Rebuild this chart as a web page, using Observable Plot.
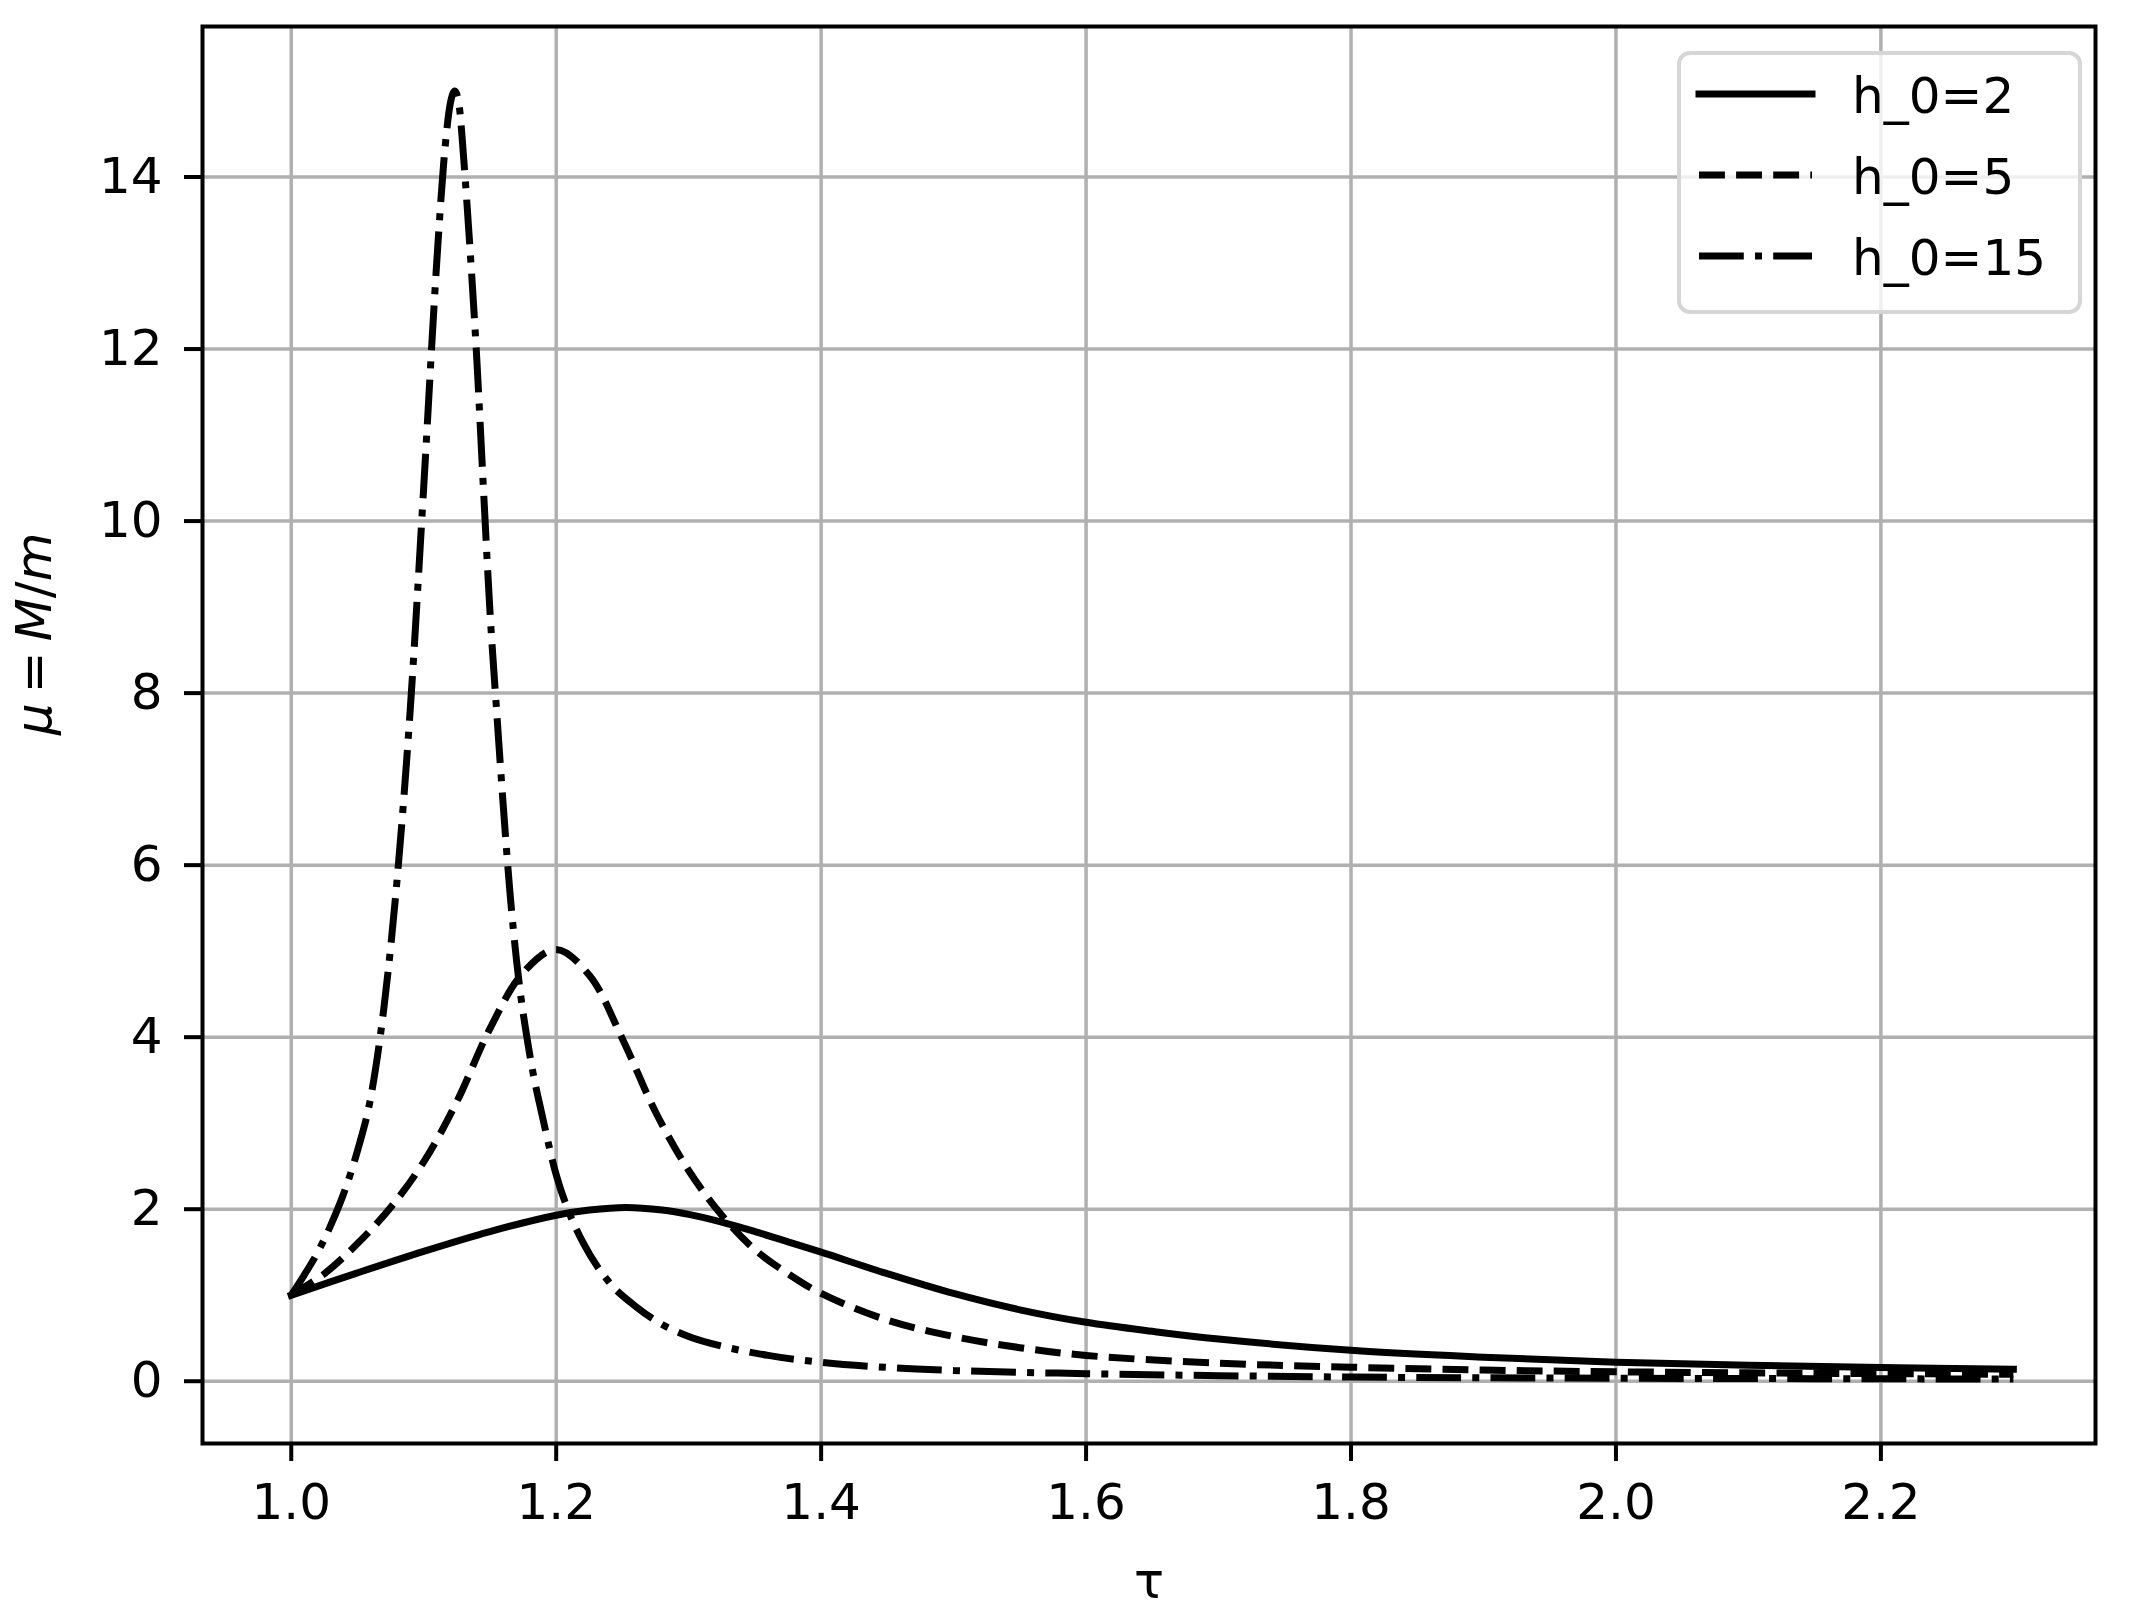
<!DOCTYPE html>
<html>
<head>
<meta charset="utf-8">
<script src="https://cdn.jsdelivr.net/npm/d3@7"></script>
<script src="https://cdn.jsdelivr.net/npm/@observablehq/plot@0.6"></script>
<style>
  html, body { margin: 0; padding: 0; background: #ffffff; }
  #chart { width: 2135px; height: 1623px; }
</style>
</head>
<body>
<div id="chart"></div>
<script>
// ---------------- data ----------------
const seriesLabels = ["h_0=2", "h_0=5", "h_0=15"];

const tau_h2 = [1.0, 1.05, 1.1, 1.15, 1.2, 1.225, 1.253, 1.28, 1.3, 1.325, 1.35, 1.375, 1.4, 1.45, 1.5, 1.55, 1.6, 1.65, 1.7, 1.8, 1.9, 2.0, 2.1, 2.2, 2.3];
const mu_h2  = [1.0, 1.26, 1.51, 1.74, 1.93, 1.99, 2.02, 1.99, 1.94, 1.85, 1.74, 1.62, 1.50, 1.25, 1.02, 0.83, 0.685, 0.58, 0.49, 0.36, 0.28, 0.22, 0.185, 0.16, 0.14];

const tau_h5 = [1.0, 1.025, 1.05, 1.075, 1.1, 1.125, 1.15, 1.175, 1.2, 1.225, 1.25, 1.275, 1.3, 1.325, 1.35, 1.375, 1.4, 1.45, 1.5, 1.55, 1.6, 1.7, 1.8, 1.9, 2.0, 2.15, 2.3];
const mu_h5  = [1.0, 1.25, 1.6, 2.02, 2.55, 3.25, 4.1, 4.75, 5.02, 4.72, 3.98, 3.13, 2.45, 1.93, 1.53, 1.25, 1.02, 0.71, 0.52, 0.39, 0.30, 0.21, 0.163, 0.13, 0.11, 0.093, 0.08];

const tau_h15 = [1.0, 1.01, 1.02, 1.03, 1.04, 1.05, 1.06, 1.07, 1.08, 1.09, 1.1, 1.11, 1.115, 1.12, 1.1235, 1.127, 1.13, 1.135, 1.14, 1.145, 1.15, 1.155, 1.16, 1.165, 1.17, 1.18, 1.19, 1.2, 1.21, 1.22, 1.24, 1.26, 1.28, 1.3, 1.33, 1.36, 1.4, 1.45, 1.5, 1.6, 1.7, 1.8, 2.0, 2.15, 2.3];
const mu_h15  = [1.0, 1.24, 1.5, 1.82, 2.2, 2.68, 3.3, 4.35, 5.85, 7.85, 10.4, 13.05, 14.15, 14.85, 15.0, 14.8, 14.25, 13.15, 11.9, 10.4, 8.95, 7.8, 6.7, 5.7, 4.9, 3.8, 3.05, 2.4, 1.95, 1.62, 1.15, 0.87, 0.66, 0.52, 0.39, 0.30, 0.22, 0.16, 0.125, 0.088, 0.065, 0.048, 0.035, 0.03, 0.025];

const xTicks = [1.0, 1.2, 1.4, 1.6, 1.8, 2.0, 2.2];
const yTicks = [0, 2, 4, 6, 8, 10, 12, 14];
const xLabel = "τ";
const yLabel = "μ = M/m";

// ---------------- build tables ----------------
const toRows = (t, m) => t.map((v, i) => ({tau: v, mu: m[i]}));
const d2 = toRows(tau_h2, mu_h2);
const d5 = toRows(tau_h5, mu_h5);
const d15 = toRows(tau_h15, mu_h15);

// ---------------- layout / style ----------------
const W = 2135, H = 1623;
const mL = 202, mR = 40, mT = 26, mB = 180;
const LW = 7;
const dashes = {
  solid: null,
  dashed: [3.7 * LW, 1.6 * LW].join(","),
  dashdot: [6.4 * LW, 1.6 * LW, 1 * LW, 1.6 * LW].join(",")
};
const font = "DejaVu Sans";

const plot = Plot.plot({
  width: W,
  height: H,
  marginLeft: mL,
  marginRight: mR,
  marginTop: mT,
  marginBottom: mB,
  style: {fontFamily: font, fontSize: "50px", background: "#ffffff", color: "#000000", overflow: "visible"},
  x: {domain: [0.933, 2.362]},
  y: {domain: [-0.724, 15.75]},
  marks: [
    Plot.gridX(xTicks, {stroke: "#b0b0b0", strokeOpacity: 1, strokeWidth: 3.5}),
    Plot.gridY(yTicks, {stroke: "#b0b0b0", strokeOpacity: 1, strokeWidth: 3.5}),
    Plot.line(d2, {x: "tau", y: "mu", stroke: "#000", strokeWidth: LW, curve: "catmull-rom", strokeLinejoin: "round", strokeLinecap: "square"}),
    Plot.line(d5, {x: "tau", y: "mu", stroke: "#000", strokeWidth: LW, curve: "catmull-rom", strokeLinejoin: "round", strokeLinecap: "butt", strokeDasharray: dashes.dashed}),
    Plot.line(d15, {x: "tau", y: "mu", stroke: "#000", strokeWidth: LW, curve: "monotone-x", strokeLinejoin: "round", strokeLinecap: "butt", strokeDasharray: dashes.dashdot}),
    Plot.frame({stroke: "#000", strokeWidth: 4}),
    Plot.axisX(xTicks, {tickSize: 18, tickPadding: 22, strokeWidth: 4, tickFormat: d3.format(".1f"), fontSize: 50, label: null}),
    Plot.axisY(yTicks, {tickSize: 18, tickPadding: 22, strokeWidth: 4, tickFormat: d3.format("d"), fontSize: 50, label: null}),
    Plot.text([xLabel], {frameAnchor: "bottom", dy: 138, fontSize: 50, fill: "#000", lineAnchor: "middle", className: "xlab"}),
    Plot.text([yLabel], {frameAnchor: "left", dx: -168, rotate: -90, fontSize: 50, fill: "#000", lineAnchor: "middle", className: "ylab"})
  ]
});

document.getElementById("chart").appendChild(plot);

// ---- y label as mathtext-like mix of italic / upright ----
const svg = d3.select(plot);
svg.selectAll("g.ylab text").each(function() {
  const t = d3.select(this);
  t.text(null);
  const parts = [["μ", "italic"], ["\u2009=\u2009", "normal"], ["M", "italic"], ["/", "normal"], ["m", "italic"]];
  for (const [s, st] of parts) t.append("tspan").attr("font-style", st).text(s);
});

// ---- legend (upper right, inside the axes) ----
const frameRight = W - mR, frameTop = mT;
const box = {w: 401, h: 259};
box.x = frameRight - 15 - box.w;
box.y = frameTop + 27;
const lg = svg.append("g").attr("font-family", font).attr("font-size", 50).attr("text-anchor", "start");
lg.append("rect")
  .attr("x", box.x).attr("y", box.y).attr("width", box.w).attr("height", box.h)
  .attr("rx", 11).attr("ry", 11)
  .attr("fill", "#ffffff").attr("fill-opacity", 0.8)
  .attr("stroke", "#d6d6d6").attr("stroke-width", 4);
const styles = [dashes.solid, dashes.dashed, dashes.dashdot];
seriesLabels.forEach((lab, i) => {
  const cy = box.y + 41 + i * 81;
  const ln = lg.append("line")
    .attr("x1", box.x + 20).attr("x2", box.x + 133)
    .attr("y1", cy).attr("y2", cy)
    .attr("stroke", "#000").attr("stroke-width", LW)
    .attr("stroke-linecap", i === 0 ? "square" : "butt");
  if (styles[i]) ln.attr("stroke-dasharray", styles[i]);
  lg.append("text").attr("x", box.x + 173).attr("y", cy + 19)
    .attr("text-anchor", "start").attr("fill", "#000").text(lab);
});
</script>
</body>
</html>
